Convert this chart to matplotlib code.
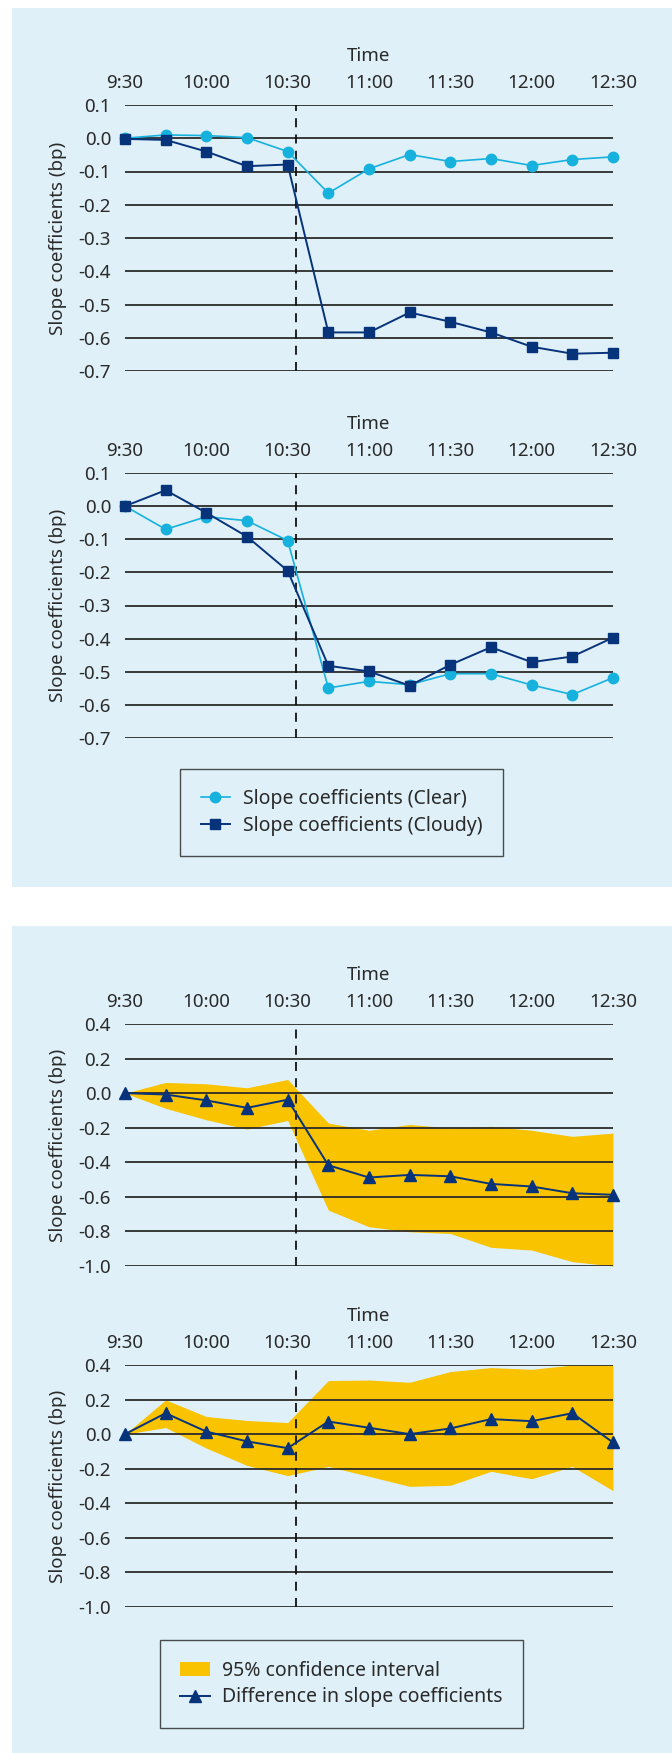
import numpy as np
import matplotlib
matplotlib.use("Agg")
import matplotlib.pyplot as plt
from matplotlib.patches import Rectangle, Patch
from matplotlib.lines import Line2D

plt.rcParams["font.family"] = ["Noto Sans", "DejaVu Sans"]

# 15-minute steps from 9:30 to 12:30
times = ["9:30", "9:45", "10:00", "10:15", "10:30", "10:45", "11:00",
         "11:15", "11:30", "11:45", "12:00", "12:15", "12:30"]
event_pos = 4.2  # announcement, just after 10:30

# top panel, first chart
clear_a = [0.0, 0.01, 0.008, 0.002, -0.04, -0.165, -0.092, -0.049, -0.07,
           -0.061, -0.082, -0.064, -0.056]
cloudy_a = [-0.002, -0.005, -0.04, -0.084, -0.079, -0.584, -0.584, -0.524,
            -0.552, -0.584, -0.627, -0.648, -0.645]

# top panel, second chart
clear_b = [0.0, -0.07, -0.032, -0.044, -0.104, -0.549, -0.529, -0.539,
           -0.506, -0.506, -0.54, -0.569, -0.518]
cloudy_b = [0.0, 0.048, -0.02, -0.092, -0.195, -0.482, -0.499, -0.542,
            -0.479, -0.426, -0.471, -0.454, -0.397]

# bottom panel, first chart
diff_a = [0.0, -0.008, -0.042, -0.085, -0.038, -0.417, -0.488, -0.473,
          -0.481, -0.525, -0.54, -0.579, -0.588]
upper_a = [0.0, 0.062, 0.054, 0.031, 0.079, -0.173, -0.215, -0.181, -0.202,
           -0.192, -0.215, -0.25, -0.231]
lower_a = [0.0, -0.088, -0.154, -0.208, -0.158, -0.677, -0.773, -0.802,
           -0.812, -0.892, -0.908, -0.975, -1.0]

# bottom panel, second chart
diff_b = [0.0, 0.121, 0.015, -0.042, -0.081, 0.073, 0.037, 0.0, 0.033,
          0.087, 0.075, 0.121, -0.048]
upper_b = [0.0, 0.198, 0.102, 0.079, 0.067, 0.31, 0.313, 0.3, 0.362,
           0.385, 0.375, 0.4, 0.4]
lower_b = [0.0, 0.038, -0.081, -0.181, -0.24, -0.187, -0.244, -0.302,
           -0.296, -0.215, -0.258, -0.187, -0.327]

BG = "#dff0f8"
CYAN = "#17b1de"
NAVY = "#06337a"
YELLOW = "#f9c300"
GRID = "#2b2b2b"
TXT = "#2a2a2a"

W, H = 672, 1753
fig = plt.figure(figsize=(W / 100, H / 100), dpi=100)
fig.patch.set_facecolor("white")


def px_rect(x0, y0, x1, y1):
    # pixel box (top-left origin) -> figure fraction
    return [x0 / W, 1 - y1 / H, (x1 - x0) / W, (y1 - y0) / H]


for y0, y1 in [(8, 887), (926, 1753)]:
    r = px_rect(12, y0, 672, y1)
    fig.add_artist(Rectangle((r[0], r[1]), r[2], r[3], transform=fig.transFigure,
                             facecolor=BG, edgecolor="none", zorder=0))

x = np.arange(len(times))


def setup(ax, ylim, yticks):
    ax.set_facecolor("none")
    ax.set_xlim(0, len(times) - 1)
    ax.set_ylim(*ylim)
    for s in ax.spines.values():
        s.set_visible(False)
    ax.xaxis.set_ticks_position("top")
    ax.xaxis.set_label_position("top")
    ax.set_xticks(x[::2])
    ax.set_xticklabels(times[::2])
    ax.set_yticks(yticks)
    ax.set_yticklabels([f"{v:.1f}".replace("-0.0", "0.0") for v in yticks])
    ax.tick_params(length=0, labelsize=13.5, colors=TXT)
    ax.tick_params(axis="x", pad=9)
    ax.tick_params(axis="y", pad=10)
    ax.set_xlabel("Time", fontsize=13.5, color=TXT, labelpad=10)
    ax.set_ylabel("Slope coefficients (bp)", fontsize=13.5, color=TXT,
                  labelpad=8)
    for v in yticks:
        ax.axhline(v, color=GRID, lw=1.3, zorder=2)
    ax.axvline(event_pos, color="#111111", lw=1.3, ls=(0, (5, 4)), zorder=2)


ticks_top = np.round(np.arange(0.1, -0.71, -0.1), 1)
ticks_bot = np.round(np.arange(0.4, -1.01, -0.2), 1)

boxes = [(105, 371), (473, 738), (1024, 1266), (1365, 1607)]
axes = [fig.add_axes(px_rect(125, t, 613, b)) for t, b in boxes]

for ax, cl, cd in [(axes[0], clear_a, cloudy_a), (axes[1], clear_b, cloudy_b)]:
    setup(ax, (-0.7, 0.1), ticks_top)
    ax.plot(x, cl, color=CYAN, lw=1.2, marker="o", ms=7.5, zorder=4,
            clip_on=False)
    ax.plot(x, cd, color=NAVY, lw=1.4, marker="s", ms=7.5, zorder=5,
            clip_on=False)

for ax, d, up, lo in [(axes[2], diff_a, upper_a, lower_a),
                      (axes[3], diff_b, upper_b, lower_b)]:
    setup(ax, (-1.0, 0.4), ticks_bot)
    ax.fill_between(x, lo, up, color=YELLOW, lw=0, zorder=1)
    ax.plot(x, d, color=NAVY, lw=1.4, marker="^", ms=8, zorder=5,
            clip_on=False)


def add_legend(handles, labels, box):
    r = px_rect(*box)
    leg = fig.legend(handles, labels, loc="center",
                     bbox_to_anchor=(r[0] + r[2] / 2, r[1] + r[3] / 2),
                     fontsize=14, frameon=True, fancybox=False,
                     edgecolor="#222222", facecolor="none", handlelength=1.5,
                     borderpad=1.05, labelspacing=0.35, handletextpad=0.65,
                     borderaxespad=0)
    leg.get_frame().set_linewidth(1.0)
    for t in leg.get_texts():
        t.set_color(TXT)
    return leg


add_legend([Line2D([], [], color=CYAN, lw=1.2, marker="o", ms=7.5),
            Line2D([], [], color=NAVY, lw=1.4, marker="s", ms=7.5)],
           ["Slope coefficients (Clear)", "Slope coefficients (Cloudy)"],
           (173, 774, 510, 851))

add_legend([Patch(facecolor=YELLOW, edgecolor="none"),
            Line2D([], [], color=NAVY, lw=1.4, marker="^", ms=8)],
           ["95% confidence interval", "Difference in slope coefficients"],
           (153, 1646, 530, 1722))

fig.savefig("out.png", dpi=100, facecolor=fig.get_facecolor())
